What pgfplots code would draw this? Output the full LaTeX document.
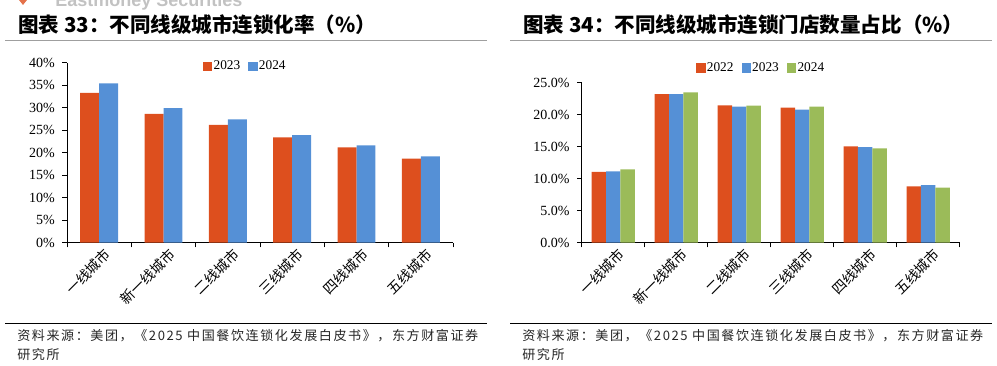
\documentclass[border=0pt]{standalone}
\usepackage{pgfplots}
\pgfplotsset{compat=1.18}
\usepackage{fontspec}
\setmainfont{Liberation Serif}
\newfontfamily\cjk{Noto Sans CJK SC}
\newfontfamily\cjksrc{Noto Sans CJK SC}[LetterSpace=12]
\newfontfamily\wm{Liberation Sans}
\definecolor{cred}{HTML}{DD4F1E}
\definecolor{cblue}{HTML}{5590D6}
\definecolor{cgreen}{HTML}{9BBB59}
\definecolor{lgray}{HTML}{999999}
\pgfplotsset{
  sqleg/.style={legend image code/.code={\fill[##1] (0pt,-3.6pt) rectangle (7pt,3.6pt);}},
  mybar/.style={
    scale only axis, anchor=south west,
    ybar, enlargelimits=false, xmin=-0.5, xmax=5.5, ymin=0,
    axis x line*=bottom, axis y line*=left,
    axis line style={black, line width=0.7pt},
    tick align=outside, major tick length=3.5pt,
    tick style={black, line width=0.6pt},
    xtick={-0.5,0.5,...,5.5}, xticklabel={\relax},
    extra x ticks={0,...,5},
    extra x tick labels={一线城市,新一线城市,二线城市,三线城市,四线城市,五线城市},
    extra x tick style={major tick length=0pt,
      xticklabel style={rotate=45, anchor=east, font=\cjk\fontsize{10.5}{12}\selectfont, inner sep=1pt, yshift=-9.5pt, xshift=1pt}},
    /pgf/number format/assume math mode=true,
    tick label style={font=\fontsize{10.5}{12}\selectfont},
    yticklabel style={inner sep=2pt, xshift=-3.5pt},
    legend style={draw=none, fill=none, legend columns=-1,
      font=\fontsize{10}{12}\selectfont,
      /tikz/every even column/.append style={column sep=5pt},
      nodes={inner sep=1pt}},
  }
}
\begin{document}
\begin{tikzpicture}[x=0.75pt,y=-0.75pt]
\useasboundingbox (0,0) rectangle (997,366);
% watermark
\node[anchor=base west, inner sep=0pt, text=lgray!60, font=\wm\bfseries\fontsize{13.5}{14}\selectfont] at (55,7) {Eastmoney Securities};
\fill[cred!80] (19,0) -- (27,0) -- (23,5) -- cycle;
% titles
\node[anchor=west, inner sep=0pt, font=\cjk\bfseries\fontsize{15.4}{18}\selectfont] at (18,25) {图表 33：不同线级城市连锁化率（\%）};
\node[anchor=west, inner sep=0pt, font=\cjk\bfseries\fontsize{15.4}{18}\selectfont] at (523,25) {图表 34：不同线级城市连锁门店数量占比（\%）};
\draw[gray!75, line width=1pt] (5,40.5) -- (487,40.5);
\draw[gray!75, line width=1pt] (510,40.5) -- (992,40.5);
% bottom
\draw[black, line width=0.9pt] (5,323.5) -- (487,323.5);
\draw[black, line width=0.9pt] (510,323.5) -- (992,323.5);
\node[anchor=west, inner sep=0pt, font=\cjksrc\fontsize{9.8}{12}\selectfont, text=black!85] at (17,336) {资料来源：美团，《2025 中国餐饮连锁化发展白皮书》，东方财富证券};
\node[anchor=west, inner sep=0pt, font=\cjksrc\fontsize{9.8}{12}\selectfont, text=black!85] at (17,355) {研究所};
\node[anchor=west, inner sep=0pt, font=\cjksrc\fontsize{9.8}{12}\selectfont, text=black!85] at (522,336) {资料来源：美团，《2025 中国餐饮连锁化发展白皮书》，东方财富证券};
\node[anchor=west, inner sep=0pt, font=\cjksrc\fontsize{9.8}{12}\selectfont, text=black!85] at (522,355) {研究所};
\coordinate (LA) at (67,242.7);
\coordinate (RA) at (581.7,242.7);
% left chart
\begin{axis}[mybar, at={(LA)}, width=289.5pt, height=135pt,
  ymax=40, ytick={0,5,...,40},
  yticklabel={\pgfmathprintnumber{\tick}\%},
  legend style={at={(0.461,0.98)}, anchor=center}]
\addplot[sqleg, draw=none, fill=cred, bar width=14.2pt, bar shift=-7.1pt] coordinates {(0,33.3) (1,28.6) (2,26.2) (3,23.4) (4,21.2) (5,18.7)};
\addplot[sqleg, draw=none, fill=cblue, bar width=14.2pt, bar shift=7.1pt] coordinates {(0,35.4) (1,29.9) (2,27.4) (3,23.9) (4,21.6) (5,19.2)};
\legend{2023,2024}
\end{axis}
% right chart
\begin{axis}[mybar, at={(RA)}, width=283.5pt, height=120pt,
  ymax=25, ytick={0,5,...,25},
  yticklabel={\pgfmathprintnumber[fixed,fixed zerofill,precision=1]{\tick}\%},
  legend style={at={(0.474,1.092)}, anchor=center}]
\addplot[sqleg, draw=none, fill=cred, bar width=10.8pt, bar shift=-10.8pt] coordinates {(0,11.05) (1,23.2) (2,21.45) (3,21.1) (4,15.05) (5,8.8)};
\addplot[sqleg, draw=none, fill=cblue, bar width=10.8pt, bar shift=0pt] coordinates {(0,11.15) (1,23.2) (2,21.25) (3,20.8) (4,14.95) (5,9.0)};
\addplot[sqleg, draw=none, fill=cgreen, bar width=10.8pt, bar shift=10.8pt] coordinates {(0,11.45) (1,23.5) (2,21.4) (3,21.25) (4,14.75) (5,8.6)};
\legend{2022,2023,2024}
\end{axis}
\end{tikzpicture}
\end{document}
